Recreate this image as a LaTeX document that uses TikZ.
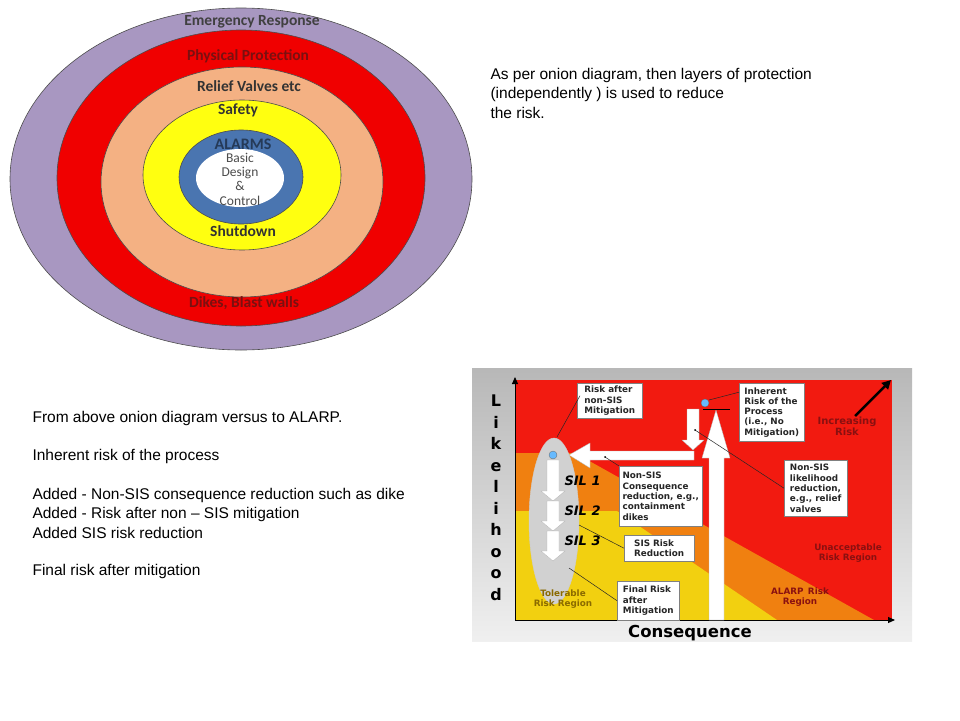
\documentclass[tikz,border=0pt]{standalone}
\usepackage{fontspec}
\setmainfont{Liberation Sans}
\newfontfamily\onion{Carlito}
\newfontfamily\chart{DejaVu Sans}
\usetikzlibrary{arrows.meta}
\definecolor{ringpurple}{HTML}{A897C1}
\definecolor{ringred}{HTML}{F00000}
\definecolor{ringpeach}{HTML}{F4B183}
\definecolor{ringyellow}{HTML}{FFFF10}
\definecolor{ringblue}{HTML}{4A75B0}
\definecolor{ringtext}{HTML}{7A1010}
\definecolor{zred}{HTML}{F21A10}
\definecolor{zorange}{HTML}{F08010}
\definecolor{zyellow}{HTML}{F2D010}
\definecolor{darkred}{HTML}{8A1010}
\definecolor{olive}{HTML}{8A6A00}
\tikzset{
 ring/.style={draw=black!70,line width=0.6pt},
 olab/.style={font=\onion\bfseries\fontsize{15.5}{16}\selectfont},
 note/.style={anchor=west,font=\fontsize{15.5}{19.5}\selectfont,align=left},
 cbox/.style={draw=black!50,fill=white,line width=0.4pt,anchor=north west,inner sep=1.5pt,align=left,font=\chart\bfseries\fontsize{8.8}{10.3}\selectfont,text=black!85},
 lead/.style={draw=black!85,line width=0.5pt},
 warrow/.style={fill=white,draw=black!30,line width=0.3pt},
 rlab/.style={font=\chart\bfseries\fontsize{8.8}{9.5}\selectfont,align=center}
}
\begin{document}
\begin{tikzpicture}[x=1pt,y=-1pt]
\useasboundingbox (0,0) rectangle (960,720);
% onion
\draw[ring,fill=ringpurple] (241,179) ellipse [x radius=231,y radius=171];
\draw[ring,fill=ringred] (241,178) ellipse [x radius=184,y radius=148];
\draw[ring,fill=ringpeach] (242,182) ellipse [x radius=141,y radius=115];
\draw[ring,fill=ringyellow] (242,175) ellipse [x radius=99,y radius=75];
\draw[ring,fill=ringblue] (241,177) ellipse [x radius=62,y radius=47];
\draw[draw=none,fill=white] (240,178) ellipse [x radius=44,y radius=29];
\node[olab,text=black!75] (er) at (252,22) {Emergency Response};
\node[olab,text=ringtext] (pp) at (248,56) {Physical Protection};
\node[olab,text=black!80] (rv) at (249,86) {Relief Valves etc};
\node[olab,text=black!80] (sf) at (238,110) {Safety};
\node[olab,text=ringblue!50!black,font=\onion\bfseries\fontsize{16}{17}\selectfont] (al) at (243,144) {ALARMS};
\node[font=\onion\fontsize{13.5}{14.3}\selectfont,align=center,text=black!70] (bd) at (240,179) {Basic\\Design\\\&\\Control};
\node[olab,text=black!80] (sd) at (243,231) {Shutdown};
\node[olab,text=ringtext] (dk) at (244,303) {Dikes, Blast walls};
% notes
\node[note] (n1) at (487,93) {As per onion diagram, then layers of protection\\(independently ) is used to reduce\\the risk.};
\node[note] (n2) at (29,418) {From above onion diagram versus to ALARP.};
\node[note] (n3) at (29,456) {Inherent risk of the process};
\node[note] (n4) at (29,513) {Added - Non-SIS consequence reduction such as dike\\Added - Risk after non -- SIS mitigation\\Added SIS risk reduction};
\node[note] (n5) at (29,571) {Final risk after mitigation};
% chart background
\shade[top color=black!28,bottom color=black!6] (472,368) rectangle (912,641);
\fill[zred] (515,380) rectangle (892,620);
\fill[zorange] (515,453) -- (575,453) -- (874,620) -- (515,620) -- cycle;
\fill[zyellow] (515,511) -- (617,511) -- (777,620) -- (515,620) -- cycle;
\coordinate (o) at (515,620);
\coordinate (ytop) at (515,377);
\coordinate (xend) at (895,620);
\draw[line width=1pt,-{Triangle[length=7pt,width=6pt]}] (o) -- (ytop);
\draw[line width=1pt,-{Triangle[length=7pt,width=6pt]}] (o) -- (xend);
\coordinate (ir1) at (855,416);
\coordinate (ir2) at (891,380);
\draw[line width=2.5pt,-{Triangle[length=9pt,width=9pt]}] (ir1) -- (ir2);
\node[rlab,text=darkred,font=\chart\bfseries\fontsize{10}{11}\selectfont] (inc) at (847,426) {Increasing\\Risk};
\node[font=\chart\bfseries\fontsize{16}{21.5}\selectfont,align=center] (lik) at (496,498) {L\\i\\k\\e\\l\\i\\h\\o\\o\\d};
\node[font=\chart\bfseries\fontsize{16.5}{17}\selectfont] (con) at (690,633) {Consequence};
% gray ellipse
\draw[draw=black!20,fill=black!18] (554,521) ellipse [x radius=25,y radius=83];
% big up arrow
\draw[warrow] (709,620) -- (709,458) -- (702,458) -- (716,410) -- (730,458) -- (724,458) -- (724,620) -- cycle;
% down arrow
\draw[warrow] (687,409) -- (699,409) -- (699,440) -- (704,440) -- (693,450) -- (682,440) -- (687,440) -- cycle;
% left arrow
\draw[warrow] (694,451) -- (590,451) -- (590,443) -- (569,455) -- (590,468) -- (590,460) -- (694,460) -- cycle;
% SIL arrows
\foreach \t/\b in {460/491,501/521,531/551}{
 \pgfmathsetmacro{\tip}{\b+10}
 \draw[warrow] (547,\t) -- (559,\t) -- (559,\b) -- (565,\b) -- (553,\tip) -- (541,\b) -- (547,\b) -- cycle;
}
\foreach \n/\y in {1/481,2/511,3/541}{
 \node[font=\chart\bfseries\itshape\fontsize{13}{13}\selectfont,anchor=west] (sil\n) at (561,\y) {SIL \n};
}
\fill[blue!45!cyan!60,draw=black!60,line width=0.3pt] (705,403) circle (4) coordinate (dot1);
\fill[blue!45!cyan!60,draw=black!60,line width=0.3pt] (553,455) circle (4) coordinate (dot2);
% boxes
\node[cbox,minimum width=65pt,minimum height=35pt] (b1) at (577,383) {Risk after\\non-SIS\\Mitigation};
\node[cbox,minimum width=65pt,minimum height=58pt] (b2) at (739,383) {Inherent\\Risk of the\\Process\\(i.e., No\\Mitigation)};
\node[cbox,minimum width=83pt,minimum height=60pt] (b3) at (619,466) {Non-SIS\\Consequence\\reduction, e.g.,\\containment\\dikes};
\node[cbox,minimum width=63pt,minimum height=56pt] (b4) at (784,460) {Non-SIS\\likelihood\\reduction,\\e.g., relief\\valves};
\node[cbox,minimum width=70pt,minimum height=26pt] (b5) at (624,535) {SIS Risk\\Reduction};
\node[cbox,minimum width=62pt,minimum height=39pt] (b6) at (617,581) {Final Risk\\after\\Mitigation};
% leaders
\coordinate (e1) at (557,437);
\coordinate (e2) at (605,457);
\coordinate (e3) at (695,430);
\coordinate (e4) at (579,525);
\coordinate (e5) at (569,568);
\coordinate (bi) at (709,400);
\draw[lead] (b1.west) ++(3,-5) -- (e1);
\draw[lead] (b2.west) ++(0,-20) -- (bi);
\draw[lead] (e2) -- (b3.north west);
\fill (e2) circle (1);
\draw[lead] (e3) -- (b4.west);
\fill (e3) circle (1);
\draw[lead] (e4) -- (b5.west);
\draw[lead] (e5) -- (b6.west);
\draw[line width=0.6pt] (703,409) -- (730,409);
% region labels
\node[rlab,text=olive] (tol) at (563,599) {Tolerable\\Risk Region};
\node[rlab,text=darkred] (alarp) at (800,597) {ALARP\enspace Risk\\Region};
\node[rlab,text=darkred] (una) at (848,553) {Unacceptable\\Risk Region};
\end{tikzpicture}
\end{document}
